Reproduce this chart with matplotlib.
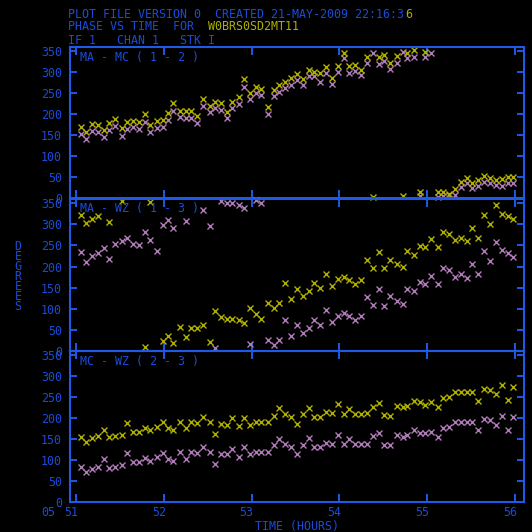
import matplotlib
matplotlib.use('Agg')
import matplotlib.pyplot as plt
import matplotlib.transforms as mtransforms

nan = float('nan')

# scan times (hours)
TIME = [51.053, 51.114, 51.186, 51.254, 51.315, 51.380, 51.448, 51.520, 51.577, 51.649,
        51.718, 51.790, 51.847, 51.919, 51.987, 52.048, 52.108, 52.188, 52.253, 52.313,
        52.382, 52.450, 52.523, 52.580, 52.648, 52.716, 52.781, 52.853, 52.917, 52.982,
        53.047, 53.111, 53.187, 53.252, 53.316, 53.380, 53.449, 53.513, 53.582, 53.650,
        53.714, 53.779, 53.847, 53.916, 53.987, 54.049, 54.113, 54.181, 54.246, 54.311,
        54.383, 54.447, 54.512, 54.580, 54.653, 54.721, 54.774, 54.850, 54.915, 54.979,
        55.047, 55.120, 55.184, 55.245, 55.313, 55.382, 55.450, 55.510, 55.582, 55.651,
        55.715, 55.780, 55.848, 55.920, 55.981]

# MA - MC (1 - 2), phase in degrees
ma_mc_yel = [168.5, 158.1, 176.4, 174.0, 162.1, 178.1, 188.4, 166.2, 180.5, 184.3,
             180.5, 200.3, 174.0, 184.3, 186.0, 202.0, 225.8, 208.2, 208.2, 208.2,
             196.2, 235.3, 220.1, 229.6, 225.8, 205.8, 228.2, 240.1, 283.0, 251.1,
             263.9, 259.9, 216.3, 257.5, 269.4, 275.9, 285.4, 295.7, 283.0, 305.2,
             301.2, 297.3, 313.1, 285.4, 314.7, 346.5, 314.7, 317.1, 305.2, 335.5,
             3.1, 335.5, 341.0, 322.6, 338.6, 4.8, 346.5, 352.9, 15.0, 348.8,
             nan, 15.0, 15.0, 9.5, 20.7, 38.9, 46.9, 36.5, 42.9, 52.5,
             48.5, 42.9, 44.5, 50.9, 49.3]
ma_mc_pur = [152.6, 140.0, 160.5, 158.1, 146.2, 162.1, 172.4, 148.5, 163.8, 168.5,
             164.5, 181.9, 156.6, 166.2, 168.5, 186.0, 208.2, 192.4, 190.0, 190.0,
             179.5, 220.1, 205.8, 213.9, 209.8, 190.0, 213.9, 223.4, 263.9, 235.3,
             249.6, 245.6, 200.3, 243.2, 253.5, 261.6, 269.4, 281.3, 269.4, 290.9,
             290.9, 277.3, 297.3, 271.1, 299.7, 333.1, 298.8, 303.6, 293.3, 321.2,
             346.5, 319.5, 327.4, 307.6, 322.6, 348.8, 333.1, 336.9, 4.8, 335.5,
             346.5, 3.1, 4.8, 7.4, 7.4, 27.0, 35.0, 23.1, 28.6, 38.9,
             36.5, 31.0, 28.6, 36.5, 35.0]

# MA - WZ (1 - 3)
ma_wz_yel = [321.9, 302.0, 312.3, 318.7, nan, 304.5, nan, 356.0, nan, nan,
             nan, 10.3, 352.2, nan, 24.6, 36.6, 19.9, 56.4, 34.2, 54.0,
             54.0, 62.0, 22.3, 95.4, 79.5, 76.3, 76.3, 72.3, 66.0, 101.7,
             88.2, 75.5, 113.6, 101.7, 113.6, 160.5, 124.0, 147.8, 129.5, 141.4,
             161.4, 149.5, 182.9, 153.3, 171.0, 174.8, 169.3, 159.0, 169.3, 214.6,
             195.5, 234.5, 195.5, 214.6, 206.7, 198.6, 236.8, 226.5, 248.8, 246.4,
             266.3, 246.4, 283.0, 278.2, 263.0, 267.0, 260.6, 292.5, 267.0, 321.9,
             300.4, 346.5, 324.3, 318.7, 312.3]
ma_wz_pur = [234.5, 211.4, 224.1, 231.3, 243.2, 217.0, 252.7, 260.6, 268.7, 252.7,
             251.1, 283.0, 263.0, 236.8, 298.8, 310.7, 292.5, nan, 306.8, nan,
             nan, 333.8, 294.9, 6.4, 356.0, 349.8, 349.8, 345.7, 338.6, 16.7,
             358.0, 349.8, 26.2, 14.3, 26.2, 72.3, 36.6, 60.4, 42.1, 54.0,
             72.3, 60.4, 97.8, 68.3, 83.5, 89.8, 83.5, 73.9, 81.9, 127.2,
             108.0, 147.8, 107.3, 129.5, 119.2, 112.1, 147.8, 141.4, 163.8, 159.8,
             178.8, 159.0, 195.5, 190.7, 175.7, 181.2, 173.2, 205.0, 181.2, 236.8,
             212.9, 259.2, 239.1, 232.9, 223.4]

# MC - WZ (2 - 3)
mc_wz_yel = [155.7, 143.8, 151.8, 158.1, 171.7, 155.7, 158.0, 159.8, 187.6, 166.2,
             166.2, 177.2, 171.7, 179.5, 190.0, 175.7, 171.7, 191.5, 175.7, 191.5,
             187.6, 203.4, 191.5, 161.4, 185.3, 183.6, 199.5, 181.2, 199.5, 183.6,
             190.0, 190.0, 191.5, 205.8, 223.4, 209.0, 203.4, 186.0, 209.0, 223.4,
             202.0, 203.4, 213.9, 211.5, 233.0, 209.8, 221.7, 209.8, 209.8, 211.5,
             227.2, 235.3, 207.4, 205.8, 229.6, 227.2, 228.9, 241.5, 237.7, 231.3,
             239.1, 225.8, 247.2, 251.1, 261.6, 261.6, 261.6, 261.6, 241.5, 268.7,
             267.0, 256.8, 279.0, 243.2, 274.2]
mc_wz_pur = [84.3, 72.3, 78.7, 84.3, 101.7, 81.9, 84.3, 88.2, 116.0, 94.6,
             94.6, 104.1, 98.5, 106.5, 116.0, 101.7, 98.5, 120.0, 102.5, 120.0,
             116.0, 130.4, 120.0, 89.8, 114.4, 114.4, 126.4, 108.0, 130.4, 114.4,
             118.4, 118.4, 118.4, 135.9, 150.2, 138.3, 131.1, 113.6, 135.9, 151.8,
             130.4, 130.4, 139.9, 138.3, 159.8, 137.5, 149.5, 137.5, 137.5, 137.5,
             158.1, 163.7, 135.9, 135.9, 159.8, 154.2, 159.8, 171.7, 163.7, 163.7,
             167.6, 154.2, 177.2, 179.5, 190.0, 190.0, 190.0, 190.0, 171.7, 197.9,
             195.5, 183.6, 205.8, 171.7, 202.0]

panel_labels = ["MA - MC ( 1 - 2 )", "MA - WZ ( 1 - 3 )", "MC - WZ ( 2 - 3 )"]
panel_data = [(ma_mc_pur, ma_mc_yel), (ma_wz_pur, ma_wz_yel), (mc_wz_pur, mc_wz_yel)]
x_ticks = [51, 52, 53, 54, 55, 56]
y_ticks = [0, 50, 100, 150, 200, 250, 300, 350]

LINE = '#1e5ae6'
TXT = '#1a4cd8'
YEL = '#b0b000'
PUR = '#b07cb8'

plt.rcParams['font.family'] = 'DejaVu Sans Mono'
plt.rcParams['font.size'] = 8.4

W = 532.0
CW = 7.02  # width of one mono character in pixels
fig = plt.figure(figsize=(5.32, 5.32), dpi=100, facecolor='black')


def rect(x0, y0, x1, y1):
    # pixel box (top-left origin) -> figure fraction
    return [x0 / W, 1 - y1 / W, (x1 - x0) / W, (y1 - y0) / W]


boxes = [(47, 198), (199, 351), (351, 502)]
shift = mtransforms.ScaledTranslation(-5 / 100, 0, fig.dpi_scale_trans)

for i, (top, bot) in enumerate(boxes):
    ax = fig.add_axes(rect(70, top, 524, bot))
    ax.set_facecolor('none')
    pur, yel = panel_data[i]
    ax.plot(TIME, pur, 'x', color=PUR, ms=4.6, mew=1.0, clip_on=False)
    ax.plot(TIME, yel, 'x', color=YEL, ms=4.6, mew=1.0, clip_on=False)
    ax.set_xlim(50.932, 56.103)
    ax.set_ylim(0, 360)
    for s in ax.spines.values():
        s.set_color(LINE)
        s.set_linewidth(1.5)
    ax.set_yticks(y_ticks)
    ax.set_xticks(x_ticks)
    ax.tick_params(axis='y', direction='in', length=5.2, width=1.4, color=LINE,
                   left=True, right=True, labelcolor=TXT, pad=5.8)
    ax.tick_params(axis='x', direction='in', length=5.8, width=1.4, color=LINE,
                   top=True, bottom=True, labelcolor=TXT, pad=3.0)
    if i < 2:
        ax.set_xticklabels([])
    else:
        for lbl in ax.get_xticklabels():
            lbl.set_transform(lbl.get_transform() + shift)
    fig.text(80 / W, 1 - (top + 10) / W, panel_labels[i], color=TXT, va='center')

# header lines
fig.text(68 / W, 1 - 14 / W, "PLOT FILE VERSION 0  CREATED 21-MAY-2009 22:16:3", color=TXT, va='center')
fig.text((68 + 48 * CW) / W, 1 - 14 / W, "6", color=YEL, va='center')
fig.text(68 / W, 1 - 27 / W, "PHASE VS TIME  FOR", color=TXT, va='center')
fig.text((68 + 20 * CW) / W, 1 - 27 / W, "W0BRS0SD2MT11", color=YEL, va='center')
fig.text(68 / W, 1 - 40 / W, "IF 1   CHAN 1   STK I", color=TXT, va='center')

# axis titles
fig.text(18 / W, 1 - 277 / W, "\n".join("DEGREES"), color=TXT, ha='center', va='center',
         linespacing=0.7)
fig.text(297 / W, 1 - 526.5 / W, "TIME (HOURS)", color=TXT, ha='center', va='center')
fig.text(48.5 / W, 1 - 512 / W, "05", color=TXT, ha='center', va='center')

fig.savefig('out.png', dpi=100, facecolor='black')
